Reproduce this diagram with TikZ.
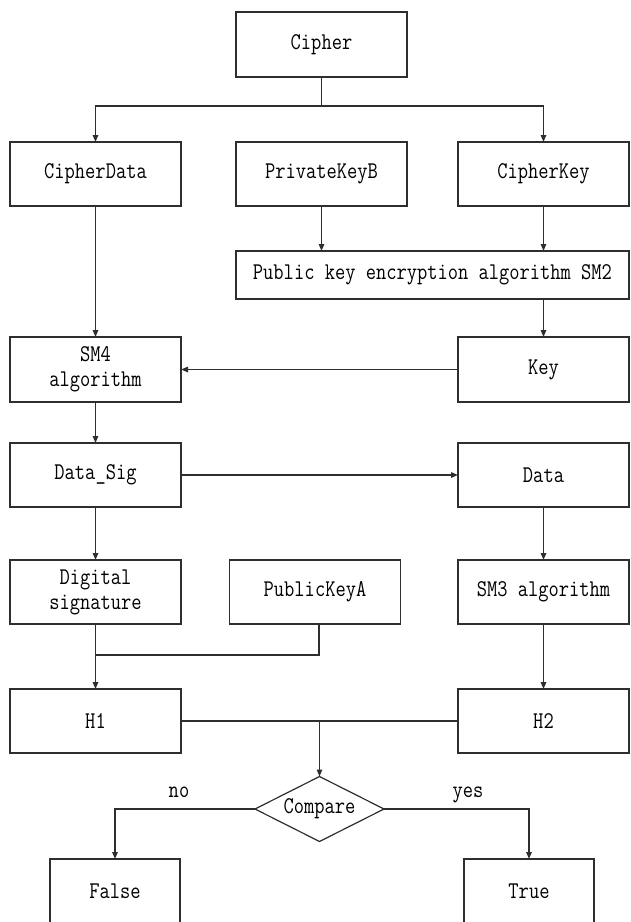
\documentclass[tikz,border=0pt]{standalone}
\usepackage{fontspec}
\setmainfont{Latin Modern Mono}[FakeStretch=0.83]
\usetikzlibrary{shapes.geometric,arrows.meta}
\definecolor{lc}{HTML}{2E2E2E}
\begin{document}
\begin{tikzpicture}[x=1pt,y=-1pt,
  every node/.style={font=\fontsize{24}{25}\selectfont, text=black},
  box/.style={draw=lc, line width=1.4pt, minimum width=171pt, minimum height=65pt, inner sep=0pt, outer sep=0pt, align=center},
  dia/.style={diamond, aspect=2, draw=lc, line width=1.2pt, minimum width=129pt, minimum height=65pt, inner sep=0pt, outer sep=0pt},
  lab/.style={inner sep=0pt, anchor=base},
  ln/.style={draw=lc, line width=1.4pt},
  arr/.style={draw=lc, line width=1.4pt, -{Triangle[length=7pt,width=5.5pt]}}]
\useasboundingbox (0,0) rectangle (630,922);
% boxes
\node[box] (cipher) at (321.5,44.5) {Cipher};
\node[box, minimum height=64pt] (cdata) at (95.5,174) {CipherData};
\node[box, minimum height=64pt] (pkb) at (321.5,174) {PrivateKeyB};
\node[box, minimum height=64pt] (ckey) at (543.5,174) {CipherKey};
\node[box, minimum width=393pt, minimum height=48pt] (sm2) at (432.5,275) {Public key encryption algorithm SM2};
\node[box] (sm4) at (95.5,369.5) {SM4\\algorithm};
\node[box] (key) at (543.5,369.5) {Key};
\node[box, minimum height=64pt] (dsig) at (95.5,475) {Data\_Sig};
\node[box, minimum height=64pt] (data) at (543.5,475) {Data};
\node[box, minimum height=64pt] (dsign) at (95.5,592) {Digital\\signature};
\node[box, minimum height=64pt] (pka) at (315,592) {PublicKeyA};
\node[box, minimum height=64pt] (sm3) at (543.5,592) {SM3 algorithm};
\node[box, minimum height=64pt] (h1) at (95.5,721) {H1};
\node[box, minimum height=64pt] (h2) at (543.5,721) {H2};
\node[dia] (cmp) at (319.5,809) {Compare};
\node[box, minimum width=130pt] (false) at (115,891.5) {False};
\node[box, minimum width=130pt] (true) at (529,891.5) {True};
\node[lab] (no) at (179,797) {no};
\node[lab] (yes) at (468,797) {yes};
% junctions
\coordinate (j1) at (321.5,106);
\coordinate (pa) at (319,624);
\coordinate (j2) at (95.5,655);
\coordinate (j3) at (319.5,721);
% connectors
\draw[ln] (cipher.south) -- (j1);
\draw[arr] (j1) -| (cdata.north);
\draw[arr] (j1) -| (ckey.north);
\draw[arr] (pkb.south) -- (pkb.south |- sm2.north);
\draw[arr] (ckey.south) -- (ckey.south |- sm2.north);
\draw[arr] (sm2.south -| key.north) -- (key.north);
\draw[arr] (cdata.south) -- (sm4.north);
\draw[arr] (key.west) -- (sm4.east);
\draw[arr] (sm4.south) -- (dsig.north);
\draw[arr] (dsig.east) -- (data.west);
\draw[arr] (dsig.south) -- (dsign.north);
\draw[arr] (data.south) -- (sm3.north);
\draw[arr] (dsign.south) -- (h1.north);
\draw[ln] (pa) |- (j2);
\draw[arr] (sm3.south) -- (h2.north);
\draw[ln] (h1.east) -- (h2.west);
\draw[arr] (j3) -- (cmp.north);
\draw[arr] (cmp.west) -| (false.north);
\draw[arr] (cmp.east) -| (true.north);
\end{tikzpicture}
\end{document}
